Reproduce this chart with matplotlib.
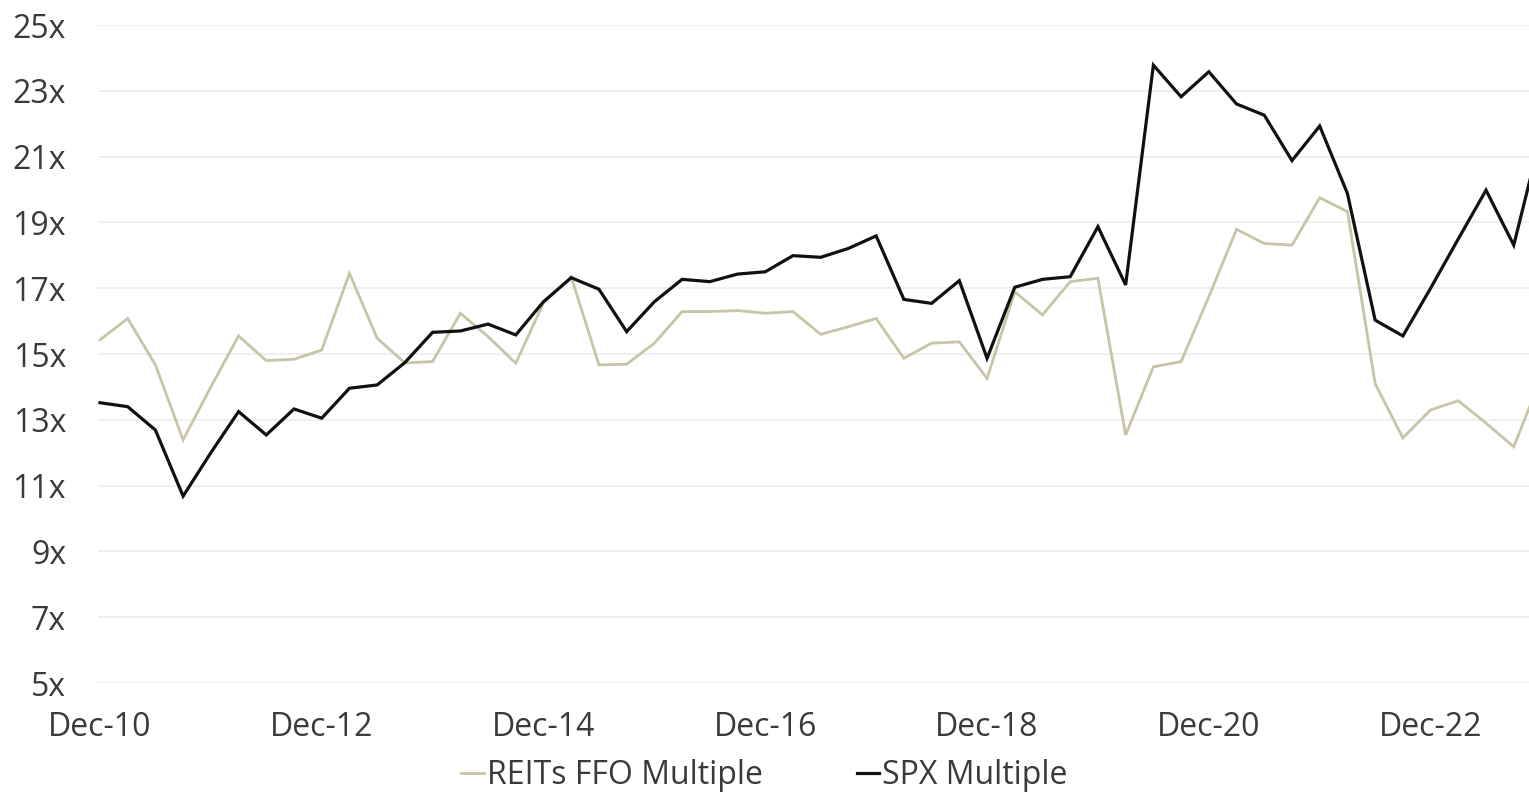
import matplotlib
matplotlib.use("Agg")
import matplotlib.pyplot as plt
import pandas as pd

# Quarterly forward multiples, Dec-10 onwards
reits_ffo = [15.43, 16.08, 14.67, 12.39, 14.0, 15.55, 14.80, 14.84, 15.12, 17.45,
             15.48, 14.73, 14.77, 16.24, 15.53, 14.72, 16.55, 17.35, 14.67, 14.69,
             15.33, 16.29, 16.29, 16.32, 16.24, 16.29, 15.60, 15.83, 16.08, 14.87,
             15.33, 15.37, 14.26, 16.89, 16.19, 17.20, 17.30, 12.54, 14.61, 14.77,
             16.74, 18.79, 18.36, 18.31, 19.75, 19.33, 14.10, 12.45, 13.30, 13.58,
             12.90, 12.18, 14.30]
spx = [13.52, 13.40, 12.69, 10.68, 12.0, 13.25, 12.54, 13.33, 13.05, 13.96,
       14.06, 14.74, 15.66, 15.70, 15.91, 15.58, 16.59, 17.32, 16.97, 15.68,
       16.59, 17.27, 17.20, 17.43, 17.50, 17.99, 17.94, 18.21, 18.59, 16.66,
       16.54, 17.23, 14.87, 17.03, 17.27, 17.35, 18.87, 17.10, 23.78, 22.82,
       23.58, 22.60, 22.26, 20.88, 21.93, 19.88, 16.03, 15.55, 17.00, 18.50,
       19.98, 18.31, 21.70]

quarters = pd.date_range("2010-12-31", periods=len(spx), freq="QE")
tick_pos = [i for i, q in enumerate(quarters) if q.month == 12 and q.year % 2 == 0]
tick_labels = [quarters[i].strftime("%b-%y") for i in tick_pos]
y_ticks = list(range(5, 26, 2))

GOLD = "#c8c4a6"
TEXT = "#3a3a3a"
FS = 23

plt.rcParams["font.family"] = ["Open Sans", "DejaVu Sans"]

fig = plt.figure(figsize=(15.29, 7.92), dpi=100)
ax = fig.add_axes([0.0641, 0.1376, 0.9359, 0.8308])

x = list(range(len(spx)))
ax.plot(x, reits_ffo, color=GOLD, lw=2.0, label="REITs FFO Multiple", solid_joinstyle="miter")
ax.plot(x, spx, color="#111111", lw=2.3, label="SPX Multiple", solid_joinstyle="miter")

ax.set_xlim(-0.07, 51.55)
ax.set_ylim(5, 25)
ax.set_yticks(y_ticks)
ax.set_yticklabels([f"{v}x" for v in y_ticks])
ax.set_xticks(tick_pos)
ax.set_xticklabels(tick_labels)
ax.grid(axis="y", color="#ececec", lw=1.2)
ax.set_axisbelow(True)
for s in ax.spines.values():
    s.set_visible(False)
ax.tick_params(axis="both", length=0, labelsize=FS, colors=TEXT)
ax.tick_params(axis="y", pad=23)
ax.tick_params(axis="x", pad=20)

leg = fig.legend(loc="center", bbox_to_anchor=(0.5, 0.021), ncol=2, frameon=False,
                 fontsize=FS, handlelength=0.7, handletextpad=0.1, columnspacing=2.95,
                 borderaxespad=0, borderpad=0)
for t in leg.get_texts():
    t.set_color(TEXT)

fig.savefig("out.png", dpi=100)
